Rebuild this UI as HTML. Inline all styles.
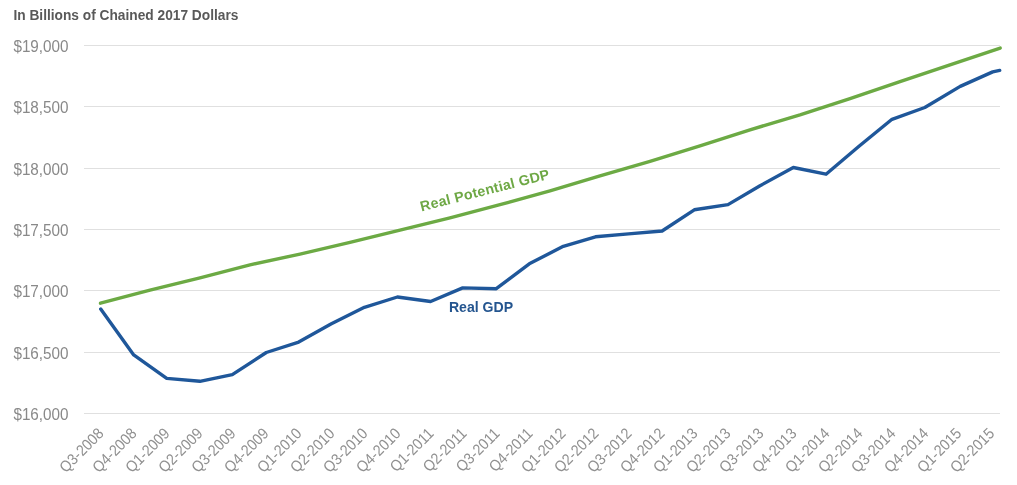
<!DOCTYPE html>
<html><head><meta charset="utf-8"><style>
html,body{margin:0;padding:0;background:#fff;width:1017px;height:485px;overflow:hidden}
svg{display:block;will-change:transform}
text{font-family:"Liberation Sans",sans-serif}
</style></head><body>
<svg width="1017" height="485" viewBox="0 0 1017 485">
<text x="13.4" y="20.2" font-size="13.9" textLength="225" lengthAdjust="spacingAndGlyphs" font-weight="bold" fill="#595959">In Billions of Chained 2017 Dollars</text>
<line x1="84" y1="45.50" x2="1000" y2="45.50" stroke="#e0e0e0" stroke-width="1.1"/>
<line x1="84" y1="106.50" x2="1000" y2="106.50" stroke="#e0e0e0" stroke-width="1.1"/>
<line x1="84" y1="168.50" x2="1000" y2="168.50" stroke="#e0e0e0" stroke-width="1.1"/>
<line x1="84" y1="229.50" x2="1000" y2="229.50" stroke="#e0e0e0" stroke-width="1.1"/>
<line x1="84" y1="290.50" x2="1000" y2="290.50" stroke="#e0e0e0" stroke-width="1.1"/>
<line x1="84" y1="352.50" x2="1000" y2="352.50" stroke="#e0e0e0" stroke-width="1.1"/>
<line x1="84" y1="413.50" x2="1000" y2="413.50" stroke="#e0e0e0" stroke-width="1.1"/>
<text x="68.6" y="52.10" font-size="15.8" textLength="55.2" lengthAdjust="spacingAndGlyphs" fill="#898989" text-anchor="end">$19,000</text>
<text x="68.6" y="113.10" font-size="15.8" textLength="55.2" lengthAdjust="spacingAndGlyphs" fill="#898989" text-anchor="end">$18,500</text>
<text x="68.6" y="175.10" font-size="15.8" textLength="55.2" lengthAdjust="spacingAndGlyphs" fill="#898989" text-anchor="end">$18,000</text>
<text x="68.6" y="236.10" font-size="15.8" textLength="55.2" lengthAdjust="spacingAndGlyphs" fill="#898989" text-anchor="end">$17,500</text>
<text x="68.6" y="297.10" font-size="15.8" textLength="55.2" lengthAdjust="spacingAndGlyphs" fill="#898989" text-anchor="end">$17,000</text>
<text x="68.6" y="359.10" font-size="15.8" textLength="55.2" lengthAdjust="spacingAndGlyphs" fill="#898989" text-anchor="end">$16,500</text>
<text x="68.6" y="420.10" font-size="15.8" textLength="55.2" lengthAdjust="spacingAndGlyphs" fill="#898989" text-anchor="end">$16,000</text>
<text transform="translate(104.70,434.5) rotate(-45) scale(1,1.1)" font-size="14.2" fill="#909090" text-anchor="end">Q3-2008</text>
<text transform="translate(137.69,434.5) rotate(-45) scale(1,1.1)" font-size="14.2" fill="#909090" text-anchor="end">Q4-2008</text>
<text transform="translate(170.68,434.5) rotate(-45) scale(1,1.1)" font-size="14.2" fill="#909090" text-anchor="end">Q1-2009</text>
<text transform="translate(203.67,434.5) rotate(-45) scale(1,1.1)" font-size="14.2" fill="#909090" text-anchor="end">Q2-2009</text>
<text transform="translate(236.66,434.5) rotate(-45) scale(1,1.1)" font-size="14.2" fill="#909090" text-anchor="end">Q3-2009</text>
<text transform="translate(269.65,434.5) rotate(-45) scale(1,1.1)" font-size="14.2" fill="#909090" text-anchor="end">Q4-2009</text>
<text transform="translate(302.64,434.5) rotate(-45) scale(1,1.1)" font-size="14.2" fill="#909090" text-anchor="end">Q1-2010</text>
<text transform="translate(335.63,434.5) rotate(-45) scale(1,1.1)" font-size="14.2" fill="#909090" text-anchor="end">Q2-2010</text>
<text transform="translate(368.62,434.5) rotate(-45) scale(1,1.1)" font-size="14.2" fill="#909090" text-anchor="end">Q3-2010</text>
<text transform="translate(401.61,434.5) rotate(-45) scale(1,1.1)" font-size="14.2" fill="#909090" text-anchor="end">Q4-2010</text>
<text transform="translate(434.60,434.5) rotate(-45) scale(1,1.1)" font-size="14.2" fill="#909090" text-anchor="end">Q1-2011</text>
<text transform="translate(467.59,434.5) rotate(-45) scale(1,1.1)" font-size="14.2" fill="#909090" text-anchor="end">Q2-2011</text>
<text transform="translate(500.58,434.5) rotate(-45) scale(1,1.1)" font-size="14.2" fill="#909090" text-anchor="end">Q3-2011</text>
<text transform="translate(533.57,434.5) rotate(-45) scale(1,1.1)" font-size="14.2" fill="#909090" text-anchor="end">Q4-2011</text>
<text transform="translate(566.56,434.5) rotate(-45) scale(1,1.1)" font-size="14.2" fill="#909090" text-anchor="end">Q1-2012</text>
<text transform="translate(599.55,434.5) rotate(-45) scale(1,1.1)" font-size="14.2" fill="#909090" text-anchor="end">Q2-2012</text>
<text transform="translate(632.54,434.5) rotate(-45) scale(1,1.1)" font-size="14.2" fill="#909090" text-anchor="end">Q3-2012</text>
<text transform="translate(665.53,434.5) rotate(-45) scale(1,1.1)" font-size="14.2" fill="#909090" text-anchor="end">Q4-2012</text>
<text transform="translate(698.52,434.5) rotate(-45) scale(1,1.1)" font-size="14.2" fill="#909090" text-anchor="end">Q1-2013</text>
<text transform="translate(731.51,434.5) rotate(-45) scale(1,1.1)" font-size="14.2" fill="#909090" text-anchor="end">Q2-2013</text>
<text transform="translate(764.50,434.5) rotate(-45) scale(1,1.1)" font-size="14.2" fill="#909090" text-anchor="end">Q3-2013</text>
<text transform="translate(797.49,434.5) rotate(-45) scale(1,1.1)" font-size="14.2" fill="#909090" text-anchor="end">Q4-2013</text>
<text transform="translate(830.48,434.5) rotate(-45) scale(1,1.1)" font-size="14.2" fill="#909090" text-anchor="end">Q1-2014</text>
<text transform="translate(863.47,434.5) rotate(-45) scale(1,1.1)" font-size="14.2" fill="#909090" text-anchor="end">Q2-2014</text>
<text transform="translate(896.46,434.5) rotate(-45) scale(1,1.1)" font-size="14.2" fill="#909090" text-anchor="end">Q3-2014</text>
<text transform="translate(929.45,434.5) rotate(-45) scale(1,1.1)" font-size="14.2" fill="#909090" text-anchor="end">Q4-2014</text>
<text transform="translate(962.44,434.5) rotate(-45) scale(1,1.1)" font-size="14.2" fill="#909090" text-anchor="end">Q1-2015</text>
<text transform="translate(995.43,434.5) rotate(-45) scale(1,1.1)" font-size="14.2" fill="#909090" text-anchor="end">Q2-2015</text>
<polyline points="100.5,303.2 150.0,290.2 200.0,277.8 250.0,264.9 300.0,254.1 350.0,242.3 400.0,230.1 450.0,217.8 500.0,204.7 550.0,190.8 600.0,175.8 650.0,161.4 700.0,145.9 750.0,129.8 800.0,114.9 850.0,98.7 900.0,81.6 950.0,64.9 1000.2,48.1" fill="none" stroke="#6caa44" stroke-width="3.4" stroke-linejoin="round" stroke-linecap="round"/>
<polyline points="100.7,309.1 133.7,354.9 166.7,378.4 199.9,381.3 232.3,374.7 266.3,352.5 298.7,342.1 331.4,323.8 364.4,307.3 397.4,297.0 430.6,301.5 462.7,287.9 496.3,288.7 529.3,263.8 563.3,246.3 595.5,236.8 628.5,233.9 662.1,231.0 694.3,209.8 728.0,204.6 759.6,186.0 793.3,167.5 826.0,174.2 859.0,146.2 892.0,119.3 924.8,107.5 960.2,86.4 992.7,71.9 999.7,70.4" fill="none" stroke="#1f579a" stroke-width="3.4" stroke-linejoin="round" stroke-linecap="round"/>
<text transform="translate(421.6,211.4) rotate(-14.3)" font-size="14.2" letter-spacing="0.25" font-weight="bold" fill="#6ea845">Real Potential GDP</text>
<text x="448.9" y="312.1" font-size="13.9" textLength="64.2" lengthAdjust="spacingAndGlyphs" font-weight="bold" fill="#24558f">Real GDP</text>
</svg>
</body></html>
